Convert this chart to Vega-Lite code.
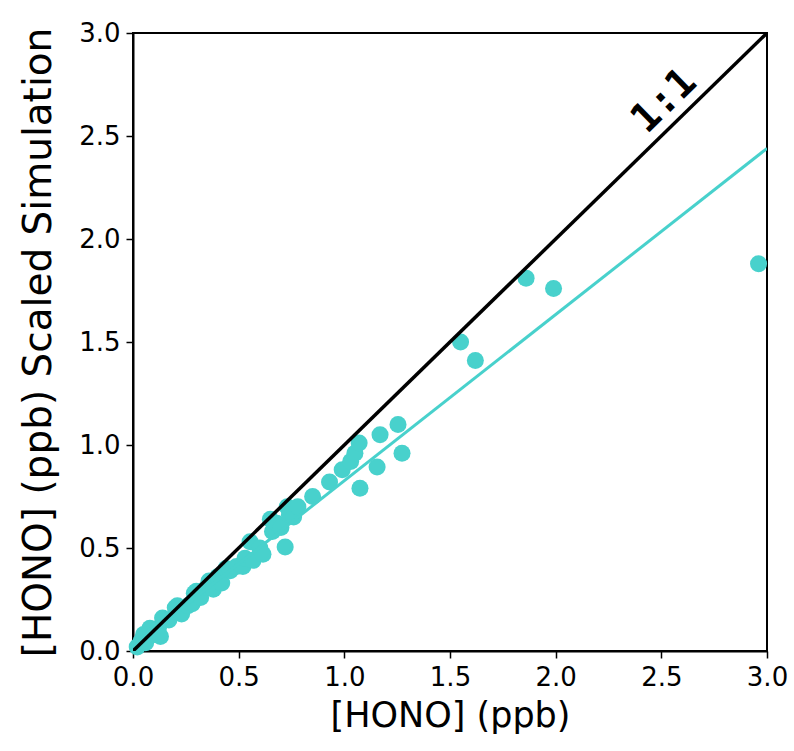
{
  "$schema": "https://vega.github.io/schema/vega-lite/v6.json",
  "width": 634,
  "height": 618,
  "autosize": "none",
  "padding": {"left": 133, "top": 33, "right": 27, "bottom": 100},
  "background": "white",
  "config": {
    "view": {"stroke": "black", "strokeWidth": 2},
    "axis": {
      "grid": false,
      "domainColor": "black",
      "domainWidth": 2,
      "tickColor": "black",
      "tickWidth": 1.5,
      "tickSize": 7,
      "labelFont": "DejaVu Sans",
      "labelFontSize": 26,
      "labelColor": "black",
      "labelFlush": false,
      "labelOverlap": false,
      "titleFont": "DejaVu Sans",
      "titleFontWeight": "normal",
      "titleColor": "black"
    }
  },
  "datasets": {
    "obs": [
      {"x": 0.02, "y": 0.02}, {"x": 0.04, "y": 0.05}, {"x": 0.05, "y": 0.08}, {"x": 0.06, "y": 0.04},
      {"x": 0.08, "y": 0.11}, {"x": 0.1, "y": 0.08}, {"x": 0.12, "y": 0.11}, {"x": 0.13, "y": 0.07},
      {"x": 0.14, "y": 0.16}, {"x": 0.17, "y": 0.15}, {"x": 0.2, "y": 0.21}, {"x": 0.21, "y": 0.22},
      {"x": 0.23, "y": 0.18}, {"x": 0.26, "y": 0.22}, {"x": 0.28, "y": 0.23}, {"x": 0.29, "y": 0.28},
      {"x": 0.3, "y": 0.29}, {"x": 0.32, "y": 0.26}, {"x": 0.35, "y": 0.31}, {"x": 0.36, "y": 0.34},
      {"x": 0.38, "y": 0.3}, {"x": 0.4, "y": 0.36}, {"x": 0.42, "y": 0.33}, {"x": 0.44, "y": 0.4},
      {"x": 0.46, "y": 0.39}, {"x": 0.49, "y": 0.41}, {"x": 0.52, "y": 0.41}, {"x": 0.53, "y": 0.45},
      {"x": 0.554, "y": 0.53}, {"x": 0.568, "y": 0.44}, {"x": 0.6, "y": 0.5}, {"x": 0.615, "y": 0.47},
      {"x": 0.65, "y": 0.64}, {"x": 0.66, "y": 0.58}, {"x": 0.68, "y": 0.62}, {"x": 0.7, "y": 0.6},
      {"x": 0.72, "y": 0.505}, {"x": 0.73, "y": 0.7}, {"x": 0.74, "y": 0.66}, {"x": 0.76, "y": 0.65},
      {"x": 0.78, "y": 0.7}, {"x": 0.85, "y": 0.75}, {"x": 0.93, "y": 0.82}, {"x": 0.99, "y": 0.88},
      {"x": 1.03, "y": 0.92}, {"x": 1.05, "y": 0.96}, {"x": 1.07, "y": 1.01}, {"x": 1.074, "y": 0.79},
      {"x": 1.155, "y": 0.893}, {"x": 1.169, "y": 1.05}, {"x": 1.254, "y": 1.1}, {"x": 1.273, "y": 0.96},
      {"x": 1.55, "y": 1.5}, {"x": 1.62, "y": 1.41}, {"x": 1.86, "y": 1.81}, {"x": 1.99, "y": 1.76},
      {"x": 2.96, "y": 1.88}
    ],
    "fit": [{"x": 0, "y": 0.02}, {"x": 3, "y": 2.44}],
    "oneone": [{"x": 0, "y": 0}, {"x": 3, "y": 3}],
    "lab": [{"x": 2.59, "y": 2.59, "t": "1:1"}]
  },
  "layer": [
    {
      "data": {"name": "obs"},
      "mark": {"type": "circle", "size": 290, "color": "#48D1CC", "opacity": 1},
      "encoding": {
        "x": {"field": "x", "type": "quantitative", "scale": {"domain": [0, 3]}, "axis": {"values": [0, 0.5, 1, 1.5, 2, 2.5, 3], "format": ".1f", "title": "[HONO] (ppb)", "titleFontSize": 35, "labelPadding": 6, "titlePadding": 8}},
        "y": {"field": "y", "type": "quantitative", "scale": {"domain": [0, 3]}, "axis": {"values": [0, 0.5, 1, 1.5, 2, 2.5, 3], "format": ".1f", "title": "[HONO] (ppb) Scaled Simulation", "titleFontSize": 39, "labelPadding": 6, "titlePadding": 20}}
      }
    },
    {
      "data": {"name": "fit"},
      "mark": {"type": "line", "color": "#48D1CC", "strokeWidth": 3, "clip": true},
      "encoding": {"x": {"field": "x", "type": "quantitative"}, "y": {"field": "y", "type": "quantitative"}}
    },
    {
      "data": {"name": "oneone"},
      "mark": {"type": "line", "color": "black", "strokeWidth": 3.5, "clip": true},
      "encoding": {"x": {"field": "x", "type": "quantitative"}, "y": {"field": "y", "type": "quantitative"}}
    },
    {
      "data": {"name": "lab"},
      "mark": {"type": "text", "font": "DejaVu Sans Mono", "fontWeight": "bold", "fontSize": 40, "angle": 315.7, "align": "center", "baseline": "middle", "dy": -23, "color": "black"},
      "encoding": {"x": {"field": "x", "type": "quantitative"}, "y": {"field": "y", "type": "quantitative"}, "text": {"field": "t"}}
    }
  ]
}
